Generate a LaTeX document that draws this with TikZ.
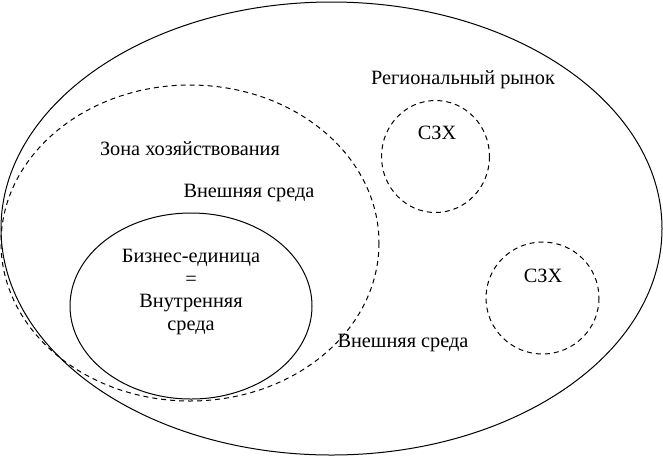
\documentclass[tikz,border=0pt]{standalone}
\usepackage{fontspec}
\setmainfont{Liberation Serif}
\begin{document}
\begin{tikzpicture}[x=1pt,y=-1pt,
  solidline/.style={line width=1pt},
  dashline/.style={line width=1pt,dash pattern=on 5pt off 4pt},
  lbl/.style={font=\fontsize{20.3}{22.5}\selectfont,inner sep=0pt}]
\useasboundingbox (0,0) rectangle (663,456);
% outer ellipse: regional market
\draw[solidline] (331.5,228.5) ellipse [x radius=330.5,y radius=226.5];
% zone of activity (dashed)
\draw[dashline] (190,243) ellipse [x radius=189,y radius=158];
% business unit
\draw[solidline] (191,306) ellipse [x radius=121,y radius=93];
% strategic zones
\draw[dashline] (435.5,156.5) ellipse [x radius=54,y radius=56];
\draw[dashline] (542.5,298) ellipse [x radius=56.5,y radius=56];
% labels
\node[lbl] (market) at (463,80) {Региональный рынок};
\node[lbl] (szx1) at (437,133) {СЗХ};
\node[lbl] (szx2) at (543,276) {СЗХ};
\node[lbl] (zone) at (190,149) {Зона хозяйствования};
\node[lbl] (ext1) at (249,193) {Внешняя среда};
\node[lbl,align=center] (unit) at (191,292) {Бизнес-единица\\=\\Внутренняя\\среда};
\node[lbl] (ext2) at (403,343) {Внешняя среда};
\end{tikzpicture}
\end{document}
